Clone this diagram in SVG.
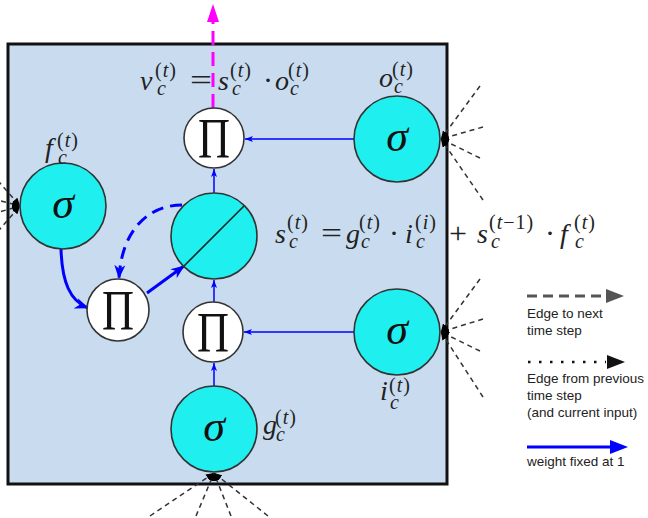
<svg xmlns="http://www.w3.org/2000/svg" width="648" height="518" viewBox="0 0 648 518">
<defs>
<style>
.gate{fill:#1fefef;stroke:#333;stroke-width:1.6}
.prod{fill:#fff;stroke:#333;stroke-width:1.6}
.sig{font-family:"Liberation Serif","DejaVu Serif","Times New Roman",serif;font-style:italic;font-size:44px;fill:#111;text-anchor:middle}
.pi{font-family:"Liberation Serif","DejaVu Serif","Times New Roman",serif;font-size:56px;fill:#111;text-anchor:middle}
.m{font-family:"Liberation Serif","DejaVu Serif","Times New Roman",serif;font-style:italic;font-size:28px;fill:#222}
.op{font-family:"Liberation Serif","DejaVu Serif","Times New Roman",serif;font-size:30px;fill:#222}
.sc{font-size:20px;font-style:normal;letter-spacing:1px}
.sb{font-size:20px;font-style:italic}
.it{font-style:italic}
.thin{fill:none;stroke:#0000ff;stroke-width:1.5}
.thick{fill:none;stroke:#0000ff;stroke-width:3}
.fan{fill:none;stroke:#333;stroke-width:1.5;stroke-dasharray:5 4}
.leg{font-family:"Liberation Sans",Arial,sans-serif;font-size:13.5px;fill:#222}
</style>
<marker id="sb" viewBox="0 0 8 6" refX="8" refY="3" markerWidth="8" markerHeight="6" markerUnits="userSpaceOnUse" orient="auto"><path d="M0,0 L8,3 L0,6 L2,3 z" fill="#0000ff"/></marker>
<marker id="bb" viewBox="0 0 14 11" refX="13" refY="5.5" markerWidth="14" markerHeight="11" markerUnits="userSpaceOnUse" orient="auto"><path d="M0,0 L14,5.5 L0,11 L4,5.5 z" fill="#0000ff"/></marker>
<marker id="kb" viewBox="0 0 8 7" refX="8" refY="3.5" markerWidth="8" markerHeight="7" markerUnits="userSpaceOnUse" orient="auto"><path d="M0,0 L8,3.5 L0,7 z" fill="#000"/></marker>
</defs>
<rect width="648" height="518" fill="#fff"/>
<rect id="cell-box" x="8" y="44" width="439" height="440" fill="#c9dcef" stroke="#111" stroke-width="3"/>

<g id="connectors">
<line class="thin" x1="354" y1="139" x2="245" y2="139" marker-end="url(#sb)"/>
<line class="thin" x1="354" y1="332" x2="244" y2="332" marker-end="url(#sb)"/>
<line class="thin" x1="214" y1="386" x2="214" y2="363" marker-end="url(#sb)"/>
<line class="thin" x1="214" y1="302" x2="214" y2="280" marker-end="url(#sb)"/>
<line class="thin" x1="214" y1="193" x2="214" y2="169" marker-end="url(#sb)"/>
<path class="thick" d="M61,249 C62,282 70,301 88,308" marker-end="url(#bb)"/>
<line class="thick" x1="147" y1="293" x2="184" y2="266" marker-end="url(#bb)"/>
<path class="thick" d="M182,205 C150,205 122,228 119,278" stroke-dasharray="12 7" marker-end="url(#bb)"/>
<line x1="213" y1="108" x2="213" y2="20" stroke="#ff00ff" stroke-width="3" stroke-dasharray="14 7"/>
<path d="M213,4 L207,22 L219,22 z" fill="#ff00ff"/>
<line class="fan" x1="480" y1="86" x2="441" y2="139" marker-end="url(#kb)"/>
<line class="fan" x1="483" y1="127" x2="441" y2="139" marker-end="url(#kb)"/>
<line class="fan" x1="480" y1="158" x2="441" y2="139" marker-end="url(#kb)"/>
<line class="fan" x1="483" y1="200" x2="441" y2="139" marker-end="url(#kb)"/>
<line class="fan" x1="480" y1="279" x2="441" y2="332" marker-end="url(#kb)"/>
<line class="fan" x1="483" y1="319" x2="441" y2="332" marker-end="url(#kb)"/>
<line class="fan" x1="480" y1="351" x2="441" y2="332" marker-end="url(#kb)"/>
<line class="fan" x1="483" y1="397" x2="441" y2="332" marker-end="url(#kb)"/>
<line class="fan" x1="-20" y1="160" x2="20" y2="206" marker-end="url(#kb)"/>
<line class="fan" x1="-25" y1="194" x2="20" y2="206" marker-end="url(#kb)"/>
<line class="fan" x1="-25" y1="219" x2="20" y2="206" marker-end="url(#kb)"/>
<line class="fan" x1="-20" y1="252" x2="20" y2="206" marker-end="url(#kb)"/>
<line class="fan" x1="150" y1="516" x2="214" y2="473" marker-end="url(#kb)"/>
<line class="fan" x1="196" y1="516" x2="214" y2="473" marker-end="url(#kb)"/>
<line class="fan" x1="231" y1="516" x2="214" y2="473" marker-end="url(#kb)"/>
<line class="fan" x1="268" y1="516" x2="214" y2="473" marker-end="url(#kb)"/>
</g>

<g id="node-prod-out">
<circle class="prod" cx="214" cy="138" r="30"/>
<text class="pi" x="214" y="158" textLength="32" lengthAdjust="spacingAndGlyphs">Π</text>
</g>
<g id="node-state">
<circle class="gate" cx="214" cy="236" r="43"/>
<line x1="184" y1="266" x2="244" y2="206" stroke="#222" stroke-width="1.6"/>
</g>
<g id="node-prod-forget">
<circle class="prod" cx="118" cy="310" r="31"/>
<text class="pi" x="118" y="330" textLength="32" lengthAdjust="spacingAndGlyphs">Π</text>
</g>
<g id="node-prod-in">
<circle class="prod" cx="213" cy="332" r="30"/>
<text class="pi" x="213" y="352" textLength="32" lengthAdjust="spacingAndGlyphs">Π</text>
</g>
<g id="node-o">
<circle class="gate" cx="397" cy="139" r="43"/>
<text class="sig" x="397" y="151">σ</text>
</g>
<g id="node-i">
<circle class="gate" cx="397" cy="332" r="43"/>
<text class="sig" x="397" y="344">σ</text>
</g>
<g id="node-f">
<circle class="gate" cx="63" cy="206" r="43"/>
<text class="sig" x="63" y="218">σ</text>
</g>
<g id="node-g">
<circle class="gate" cx="214" cy="429" r="43"/>
<text class="sig" x="214" y="441">σ</text>
</g>

<g id="labels">
<text class="m" x="140" y="90">v<tspan class="sc" x="155" y="77">(<tspan class="it">t</tspan>)</tspan><tspan class="sb" x="157" y="95">c</tspan></text>
<text class="op" x="190" y="90" textLength="22" lengthAdjust="spacingAndGlyphs">=</text>
<text class="m" x="218" y="90">s<tspan class="sc" x="230" y="77">(<tspan class="it">t</tspan>)</tspan><tspan class="sb" x="232" y="95">c</tspan></text>
<text class="op" x="263" y="90">·</text>
<text class="m" x="275" y="90">o<tspan class="sc" x="288" y="77">(<tspan class="it">t</tspan>)</tspan><tspan class="sb" x="290" y="95">c</tspan></text>

<text class="m" x="379" y="87">o<tspan class="sc" x="392" y="76">(<tspan class="it">t</tspan>)</tspan><tspan class="sb" x="394" y="93">c</tspan></text>

<text class="m" x="45" y="157">f<tspan class="sc" x="57" y="147">(<tspan class="it">t</tspan>)</tspan><tspan class="sb" x="58" y="164">c</tspan></text>

<text class="m" x="380" y="400">i<tspan class="sc" x="389" y="392">(<tspan class="it">t</tspan>)</tspan><tspan class="sb" x="390" y="409">c</tspan></text>

<text class="m" x="263" y="434">g<tspan class="sc" x="275" y="424">(<tspan class="it">t</tspan>)</tspan><tspan class="sb" x="276" y="441">c</tspan></text>

<text class="m" x="275" y="243">s<tspan class="sc" x="287" y="229">(<tspan class="it">t</tspan>)</tspan><tspan class="sb" x="289" y="248">c</tspan></text>
<text class="op" x="321" y="243" textLength="21" lengthAdjust="spacingAndGlyphs">=</text>
<text class="m" x="346" y="243">g<tspan class="sc" x="359" y="229">(<tspan class="it">t</tspan>)</tspan><tspan class="sb" x="361" y="248">c</tspan></text>
<text class="op" x="389" y="243">·</text>
<text class="m" x="405" y="243">i<tspan class="sc" x="415" y="229">(<tspan class="it">i</tspan>)</tspan><tspan class="sb" x="416" y="248">c</tspan></text>
<text class="op" x="449" y="243" textLength="18" lengthAdjust="spacingAndGlyphs">+</text>
<text class="m" x="477" y="243">s<tspan class="sc" x="489" y="229">(<tspan class="it">t</tspan>−1)</tspan><tspan class="sb" x="491" y="248">c</tspan></text>
<text class="op" x="545" y="243">·</text>
<text class="m" x="560" y="243">f<tspan class="sc" x="574" y="229">(<tspan class="it">t</tspan>)</tspan><tspan class="sb" x="575" y="248">c</tspan></text>
</g>

<g id="legend">
<line x1="527" y1="296" x2="608" y2="296" stroke="#555" stroke-width="3" stroke-dasharray="10 6"/>
<path d="M606,289 L624,296 L606,303 z" fill="#555"/>
<text class="leg" x="527" y="318">Edge to next</text>
<text class="leg" x="527" y="335">time step</text>
<line x1="528" y1="362" x2="606" y2="362" stroke="#111" stroke-width="2.5" stroke-dasharray="2.5 8.5"/>
<path d="M607,355 L625,362 L607,369 z" fill="#111"/>
<text class="leg" x="527" y="383">Edge from previous</text>
<text class="leg" x="527" y="400">time step</text>
<text class="leg" x="527" y="417">(and current input)</text>
<line x1="527" y1="447" x2="612" y2="447" stroke="#0000ff" stroke-width="3"/>
<path d="M610,440 L628,447 L610,454 z" fill="#0000ff"/>
<text class="leg" x="527" y="466">weight fixed at 1</text>
</g>
</svg>
